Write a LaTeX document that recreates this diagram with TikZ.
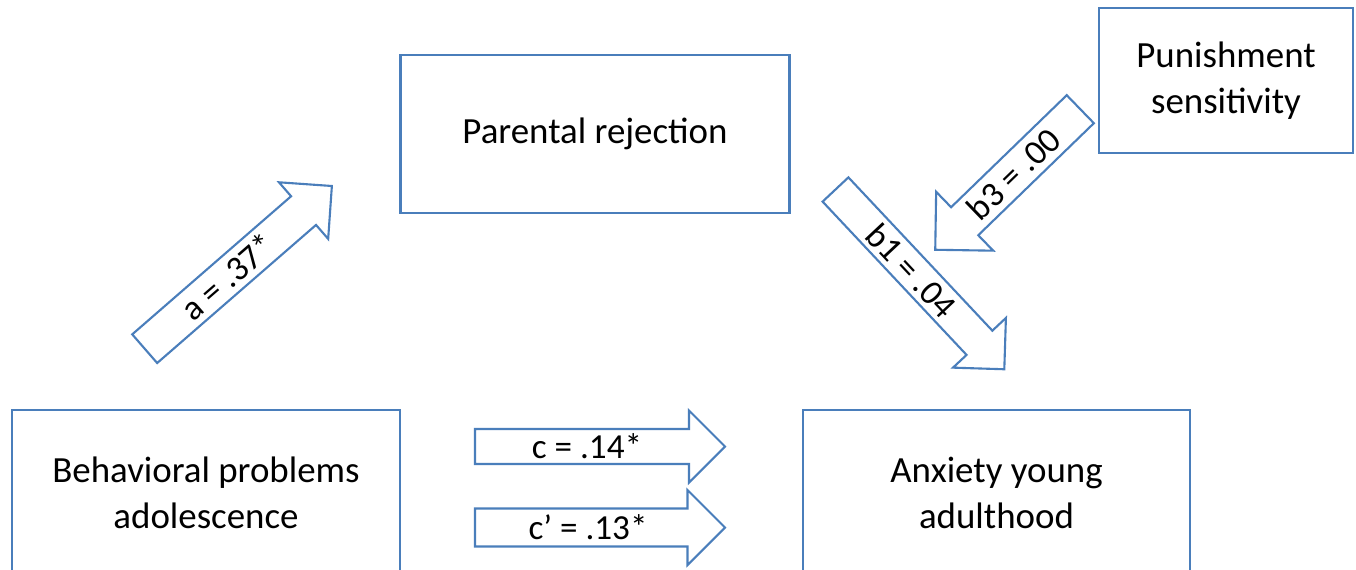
\documentclass[tikz,border=0pt]{standalone}
\usepackage{fontspec}
\setmainfont{Carlito}
\definecolor{boxblue}{HTML}{4A7EBB}
\tikzset{
  varbox/.style={draw=boxblue, line width=1.2pt, rectangle, align=center, inner sep=0pt,
    font=\fontsize{21}{26}\selectfont, text=black},
  arrowline/.style={draw=boxblue, line width=1.2pt, fill=white, line join=miter},
  lbl/.style={inner sep=0pt, font=\fontsize{20}{24}\selectfont, text=black}
}
% #1 tail, #2 angle, #3 length, #4 shaft half width, #5 head half width (= head length),
% #6 label position, #7 label rotation, #8 label text, #9 label name
\newcommand\blockarrow[9]{%
  \begin{scope}[shift={#1},rotate=#2]
    \draw[arrowline] (0,-#4) -- ({#3-#5},-#4) -- ({#3-#5},-#5) -- (#3,0)
      -- ({#3-#5},#5) -- ({#3-#5},#4) -- (0,#4) -- cycle;
    \node[lbl,rotate=#7] (#9) at (#6,0) {#8};
  \end{scope}}
\begin{document}
\begin{tikzpicture}[x=0.02cm,y=0.02cm]
\useasboundingbox (0,0) rectangle (1356,569);
\clip (0,0) rectangle (1356,569);
\fill[white] (0,0) rectangle (1356,569);

% boxes
\node[varbox, minimum width=389*0.02cm, minimum height=158*0.02cm] (rej) at (595,435) {Parental rejection};
\node[varbox, minimum width=254*0.02cm, minimum height=145*0.02cm] (pun) at (1226,488.5) {Punishment\\sensitivity};
\node[varbox, minimum width=388*0.02cm, minimum height=166*0.02cm] (beh) at (206,76) {Behavioral problems\\adolescence};
\node[varbox, minimum width=387*0.02cm, minimum height=166*0.02cm] (anx) at (996.5,76) {Anxiety young\\adulthood};

% block arrows
\blockarrow{(144.7,220.3)}{41}{248}{19}{37.5}{110}{41}{a = .37*}{la}
\blockarrow{(1080.3,459.8)}{224.1}{202}{19.5}{41}{93}{44.1}{b3 = .00}{lb3}
\blockarrow{(835.5,379.5)}{-46.8}{246.6}{17.7}{36.3}{111}{-46.8}{b1 = .04}{lb1}
\blockarrow{(475,122.5)}{0}{250}{17.5}{36}{112}{0}{c = .14*}{lc}
\blockarrow{(475,41.5)}{0}{250}{19}{37.5}{113}{0}{c’ = .13*}{lcp}
\end{tikzpicture}
\end{document}
